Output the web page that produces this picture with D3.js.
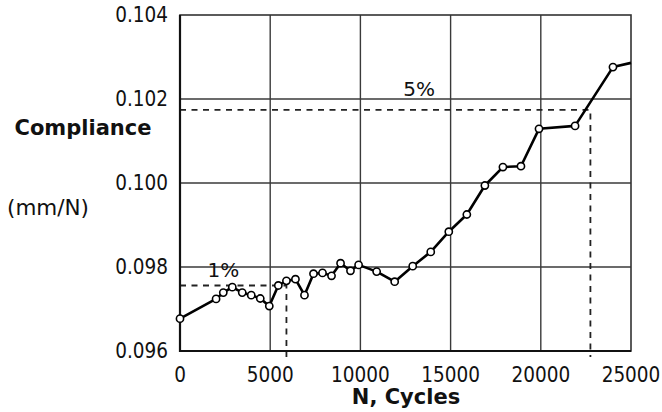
<!DOCTYPE html>
<html>
<head>
<meta charset="utf-8">
<script src="https://cdn.jsdelivr.net/npm/d3@7"></script>
<style>
  body { margin: 0; background: #fff; }
  svg text { font-family: "DejaVu Sans", sans-serif; fill: #111; }
  svg text.cond { font-family: "DejaVu Sans Condensed", "DejaVu Sans", sans-serif; font-stretch: condensed; }
</style>
</head>
<body>
<div id="chart"></div>
<script>
// ---- data ----
const cycles = [0, 2000, 2400, 2900, 3450, 3950, 4450, 4950, 5450, 5900, 6400, 6900, 7400, 7900, 8400, 8900,
                9450, 9900, 10900, 11900, 12900, 13900, 14900, 15900, 16900, 17900, 18900, 19900, 21900, 24000, 25000];
const compliance = [0.09677, 0.09724, 0.09739, 0.09752, 0.09739, 0.09733, 0.09725, 0.09707, 0.09756, 0.09767,
                    0.09771, 0.09733, 0.09784, 0.09786, 0.09779, 0.09809, 0.09791, 0.09805, 0.09789, 0.09765,
                    0.09802, 0.09836, 0.09884, 0.09925, 0.09994, 0.10038, 0.10040, 0.10129, 0.10136, 0.10276, 0.10286];
const xTicks = [0, 5000, 10000, 15000, 20000, 25000];
const yTicks = [0.096, 0.098, 0.100, 0.102, 0.104];
// threshold markers: label, cycles, compliance, where the label sits
const thresholdLabels = ["1%", "5%"];
const thresholdCycles = [5900, 22750];
const thresholdValues = [0.09756, 0.10174];
const labelCycles = [2400, 13250];
const labelValues = [0.09777, 0.10206];

const width = 662, height = 412;
const margin = { left: 180, right: 31, top: 15, bottom: 61 };

const svg = d3.select("#chart").append("svg")
    .attr("width", width)
    .attr("height", height);

const x = d3.scaleLinear().domain([0, 25000]).range([margin.left, width - margin.right]);
const y = d3.scaleLinear().domain([0.096, 0.104]).range([height - margin.bottom, margin.top]);

// grid
svg.append("g")
    .selectAll("line")
    .data(xTicks.slice(1, -1))
    .enter().append("line")
    .attr("x1", d => x(d)).attr("x2", d => x(d))
    .attr("y1", y.range()[1]).attr("y2", y.range()[0])
    .attr("stroke", "#3a3a3a").attr("stroke-width", 1.4);

svg.append("g")
    .selectAll("line")
    .data(yTicks.slice(1, -1))
    .enter().append("line")
    .attr("x1", x.range()[0]).attr("x2", x.range()[1])
    .attr("y1", d => y(d)).attr("y2", d => y(d))
    .attr("stroke", "#3a3a3a").attr("stroke-width", 1.4);

// threshold dashed lines
const thr = thresholdLabels.map((l, i) => ({
    label: l, n: thresholdCycles[i], c: thresholdValues[i], ln: labelCycles[i], lc: labelValues[i]
}));
svg.append("g")
    .attr("stroke", "#222").attr("stroke-width", 1.8).attr("stroke-dasharray", "6,5.5").attr("fill", "none")
    .selectAll("path")
    .data(thr)
    .enter().append("path")
    .attr("d", d => `M${x(0)},${y(d.c)}H${x(d.n)}V${y.range()[0] + 6}`);

svg.selectAll("text.thr")
    .data(thr)
    .enter().append("text")
    .attr("class", "thr")
    .attr("x", d => x(d.ln))
    .attr("y", d => y(d.lc))
    .attr("text-anchor", "middle")
    .style("font-size", "20px")
    .text(d => d.label);

// frame
svg.append("rect")
    .attr("x", x.range()[0]).attr("y", y.range()[1])
    .attr("width", x.range()[1] - x.range()[0])
    .attr("height", y.range()[0] - y.range()[1])
    .attr("fill", "none").attr("stroke", "#333").attr("stroke-width", 1.6);
svg.append("path")
    .attr("d", `M${x.range()[0]},${y.range()[1]}V${y.range()[0]}H${x.range()[1]}`)
    .attr("fill", "none").attr("stroke", "#111").attr("stroke-width", 2.2);

// data line
const pts = cycles.map((n, i) => ({ n, c: compliance[i] }));
svg.append("path")
    .datum(pts)
    .attr("fill", "none")
    .attr("stroke", "#000")
    .attr("stroke-width", 2.6)
    .attr("stroke-linejoin", "round")
    .attr("d", d3.line().x(d => x(d.n)).y(d => y(d.c)));

svg.append("g")
    .selectAll("circle")
    .data(pts.slice(0, -1))
    .enter().append("circle")
    .attr("cx", d => x(d.n)).attr("cy", d => y(d.c))
    .attr("r", 3.6)
    .attr("fill", "#fff").attr("stroke", "#000").attr("stroke-width", 1.6);

// tick labels
svg.append("g")
    .selectAll("text")
    .data(yTicks)
    .enter().append("text")
    .attr("class", "cond")
    .attr("x", 168).attr("y", d => y(d))
    .attr("dy", "0.36em")
    .attr("text-anchor", "end")
    .style("font-size", "20.5px")
    .text(d3.format(".3f"));

svg.append("g")
    .selectAll("text")
    .data(xTicks)
    .enter().append("text")
    .attr("class", "cond")
    .attr("x", d => x(d)).attr("y", 382)
    .attr("text-anchor", "middle")
    .style("font-size", "20.5px")
    .text(d => d);

// axis titles
svg.append("text")
    .attr("x", 83).attr("y", 135)
    .attr("text-anchor", "middle")
    .style("font-size", "21px").style("font-weight", "bold")
    .text("Compliance");
svg.append("text")
    .attr("x", 48).attr("y", 215)
    .attr("text-anchor", "middle")
    .style("font-size", "21.5px")
    .text("(mm/N)");
svg.append("text")
    .attr("x", 406).attr("y", 404)
    .attr("text-anchor", "middle")
    .style("font-size", "21px").style("font-weight", "bold")
    .text("N, Cycles");
</script>
</body>
</html>
